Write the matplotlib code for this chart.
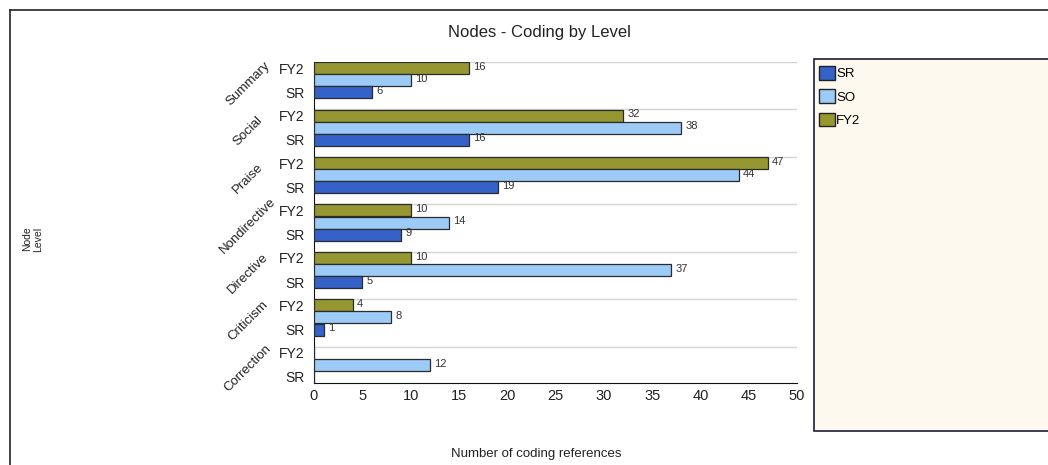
import matplotlib
matplotlib.use("Agg")
import matplotlib.pyplot as plt
import matplotlib.transforms as mtransforms
from matplotlib.patches import Rectangle
from matplotlib.lines import Line2D
import numpy as np

plt.rcParams['font.family'] = ['Liberation Sans', 'DejaVu Sans']

# bottom to top
nodes = ["Correction", "Criticism", "Directive", "Nondirective", "Praise", "Social", "Summary"]
sr = [0, 1, 5, 9, 19, 16, 6]
so = [12, 8, 37, 14, 44, 38, 10]
fy2 = [0, 4, 10, 10, 47, 32, 16]
xticks = [0, 5, 10, 15, 20, 25, 30, 35, 40, 45, 50]

c_sr = "#3462C9"
c_so = "#9DCBF7"
c_fy2 = "#979731"

W, H = 1048, 465
fig = plt.figure(figsize=(W / 100, H / 100), dpi=100)

# outer frame (left and top)
fig.add_artist(Line2D([10 / W, 10 / W], [0, 1 - 10 / H], color="#222222", lw=1.2))
fig.add_artist(Line2D([10 / W, 1], [1 - 10 / H, 1 - 10 / H], color="#222222", lw=1.2))

ax = fig.add_axes([314 / W, 1 - 383 / H, (797 - 314) / W, (383 - 62) / H])

g = np.arange(len(nodes))
h = 0.253
y_fy2 = g + 1 - 0.13
y_so = g + 1 - 0.385
y_sr = g + 1 - 0.64

ax.barh(y_fy2, fy2, height=h, color=c_fy2, edgecolor="#2b2b2b", lw=0.9, zorder=3)
ax.barh(y_so, so, height=h, color=c_so, edgecolor="#2b2b2b", lw=0.9, zorder=3)
ax.barh(y_sr, sr, height=h, color=c_sr, edgecolor="#2b2b2b", lw=0.9, zorder=3)

for ys, vals in ((y_fy2, fy2), (y_so, so), (y_sr, sr)):
    for y, v in zip(ys, vals):
        if v > 0:
            ax.annotate(str(v), (v, y), xytext=(3, 1), textcoords="offset points",
                        ha="left", va="center", fontsize=8, color="#333333")

for k in range(1, len(nodes) + 1):
    ax.axhline(k, color="#d4d4d4", lw=1, zorder=1)

ax.set_xlim(0, 50)
ax.set_ylim(g[0] + 1 - 0.64 - h / 2, len(nodes))
ax.set_xticks(xticks)
ax.set_yticks(list(y_fy2) + list(y_sr))
ax.set_yticklabels(["FY2"] * len(nodes) + ["SR"] * len(nodes))
ax.tick_params(axis="y", length=0, pad=7, labelsize=10, colors="#222222")
ax.tick_params(axis="x", length=0, pad=4, labelsize=10.5, colors="#222222")

for s in ("top", "right"):
    ax.spines[s].set_visible(False)
ax.spines["left"].set_color("#111111")
ax.spines["bottom"].set_color("#111111")

tr = mtransforms.blended_transform_factory(ax.transAxes, ax.transData)
for i, name in enumerate(nodes):
    ax.text((248 - 314) / 483, i + 1 - 0.45, name, transform=tr, rotation=45,
            ha="center", va="center", fontsize=9.5, color="#222222")

fig.text(539 / W, 1 - 32 / H, "Nodes - Coding by Level", ha="center", va="center",
         fontsize=12, color="#222222")
fig.text(536 / W, 1 - 454 / H, "Number of coding references", ha="center", va="center",
         fontsize=9.5, color="#222222")
fig.text(33 / W, 1 - 239 / H, "Node\nLevel", ha="center", va="center", rotation=90,
         fontsize=7.5, color="#222222", linespacing=1.15)

# legend panel
fig.add_artist(Rectangle((814 / W, 1 - 431 / H), (W - 814 + 5) / W, (431 - 59) / H,
                         transform=fig.transFigure, facecolor="#fdf9ef",
                         edgecolor="#1c1c3a", lw=1.2))
handles = [Rectangle((0, 0), 1, 1, facecolor=c, edgecolor="#222222", lw=1)
           for c in (c_sr, c_so, c_fy2)]
fig.legend(handles, ["SR", "SO", "FY2"], loc="upper left",
           bbox_to_anchor=(819 / W, 1 - 66 / H), frameon=False, fontsize=9.5,
           handlelength=1.2, handleheight=1.2, handletextpad=0.1,
           labelspacing=0.7, borderpad=0, borderaxespad=0)

fig.savefig("out.png", dpi=100)
